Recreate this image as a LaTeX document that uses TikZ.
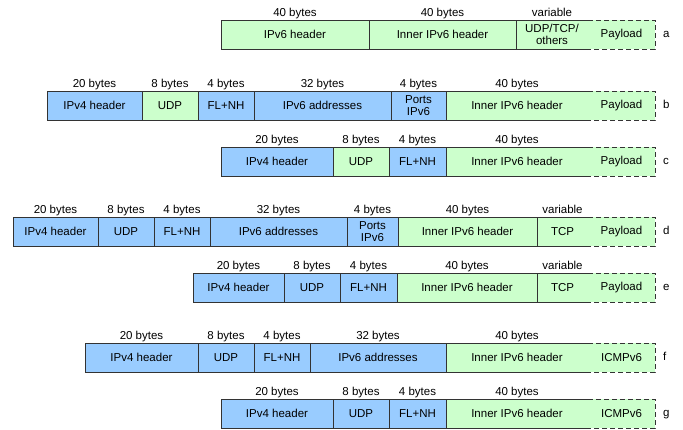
\documentclass[tikz,border=0pt]{standalone}
\usepackage{fontspec}
\setmainfont{Liberation Sans}
\usetikzlibrary{positioning}

\definecolor{vfourblue}{RGB}{153,204,255}
\definecolor{vsixgreen}{RGB}{204,255,204}
\definecolor{edgegray}{RGB}{51,51,51}

\tikzset{
  field/.style={draw=edgegray, line width=0.6pt, minimum height=29pt, inner sep=0pt,
    outer sep=0pt, align=center, font=\fontsize{11.5}{12}\selectfont},
  vfour/.style={field, fill=vfourblue},
  vsix/.style={field, fill=vsixgreen},
  % payload: filled, its open edges are drawn dashed afterwards
  payload/.style={fill=vsixgreen, minimum height=29pt, inner sep=0pt, outer sep=0pt,
    font=\fontsize{11.5}{12}\selectfont},
  rowtag/.style={inner sep=0pt, text height=6pt, text depth=0pt,
    font=\fontsize{11.5}{12}\selectfont},
  every label/.style={inner sep=0pt, text depth=2pt, font=\fontsize{11.5}{12}\selectfont}
}

\begin{document}
\begin{tikzpicture}[x=1pt,y=-1pt,node distance=0pt,label distance=1.5pt]
	\useasboundingbox (0,0) rectangle (683,430);

	% (a) plain IPv6 in IPv6
	\node[vsix, minimum width=148pt, anchor=west, label=above:40 bytes] (a1) at (221,34.5) {IPv6 header};
	\node[vsix, minimum width=147pt, label=above:40 bytes] (a2) [right = of a1] {Inner IPv6 header};
	\node[vsix, minimum width=72pt, label=above:variable] (a3) [right = of a2] {UDP/TCP/\\others};
	\node[payload, minimum width=67pt] (ap) [right = of a3] {Payload};
	\node[rowtag] (ta) [right = 8pt of ap] {a};

	% (b)
	\node[vfour, minimum width=95pt, anchor=west, label=above:20 bytes] (b1) at (47,105.5) {IPv4 header};
	\node[vsix, minimum width=56pt, label=above:8 bytes] (b2) [right = of b1] {UDP};
	\node[vfour, minimum width=56pt, label=above:4 bytes] (b3) [right = of b2] {FL+NH};
	\node[vfour, minimum width=137pt, label=above:32 bytes] (b4) [right = of b3] {IPv6 addresses};
	\node[vfour, minimum width=55pt, label=above:4 bytes] (b5) [right = of b4] {Ports\\IPv6};
	\node[vsix, minimum width=142pt, label=above:40 bytes] (b6) [right = of b5] {Inner IPv6 header};
	\node[payload, minimum width=67pt] (bp) [right = of b6] {Payload};
	\node[rowtag] (tb) [right = 8pt of bp] {b};

	% (c)
	\node[vfour, minimum width=112pt, anchor=west, label=above:20 bytes] (c1) at (221,161.5) {IPv4 header};
	\node[vsix, minimum width=56pt, label=above:8 bytes] (c2) [right = of c1] {UDP};
	\node[vfour, minimum width=57pt, label=above:4 bytes] (c3) [right = of c2] {FL+NH};
	\node[vsix, minimum width=142pt, label=above:40 bytes] (c4) [right = of c3] {Inner IPv6 header};
	\node[payload, minimum width=67pt] (cp) [right = of c4] {Payload};
	\node[rowtag] (tc) [right = 8pt of cp] {c};

	% (d)
	\node[vfour, minimum width=85pt, anchor=west, label=above:20 bytes] (d1) at (13,231.5) {IPv4 header};
	\node[vfour, minimum width=56pt, label=above:8 bytes] (d2) [right = of d1] {UDP};
	\node[vfour, minimum width=56pt, label=above:4 bytes] (d3) [right = of d2] {FL+NH};
	\node[vfour, minimum width=137pt, label=above:32 bytes] (d4) [right = of d3] {IPv6 addresses};
	\node[vfour, minimum width=51pt, label=above:4 bytes] (d5) [right = of d4] {Ports\\IPv6};
	\node[vsix, minimum width=139pt, label=above:40 bytes] (d6) [right = of d5] {Inner IPv6 header};
	\node[vsix, minimum width=51pt, label=above:variable] (d7) [right = of d6] {TCP};
	\node[payload, minimum width=67pt] (dp) [right = of d7] {Payload};
	\node[rowtag] (td) [right = 8pt of dp] {d};

	% (e)
	\node[vfour, minimum width=91pt, anchor=west, label=above:20 bytes] (e1) at (193,287.5) {IPv4 header};
	\node[vfour, minimum width=56pt, label=above:8 bytes] (e2) [right = of e1] {UDP};
	\node[vfour, minimum width=57pt, label=above:4 bytes] (e3) [right = of e2] {FL+NH};
	\node[vsix, minimum width=140pt, label=above:40 bytes] (e4) [right = of e3] {Inner IPv6 header};
	\node[vsix, minimum width=51pt, label=above:variable] (e5) [right = of e4] {TCP};
	\node[payload, minimum width=67pt] (ep) [right = of e5] {Payload};
	\node[rowtag] (te) [right = 8pt of ep] {e};

	% (f)
	\node[vfour, minimum width=113pt, anchor=west, label=above:20 bytes] (f1) at (85,357.5) {IPv4 header};
	\node[vfour, minimum width=56pt, label=above:8 bytes] (f2) [right = of f1] {UDP};
	\node[vfour, minimum width=56pt, label=above:4 bytes] (f3) [right = of f2] {FL+NH};
	\node[vfour, minimum width=136pt, label=above:32 bytes] (f4) [right = of f3] {IPv6 addresses};
	\node[vsix, minimum width=142pt, label=above:40 bytes] (f5) [right = of f4] {Inner IPv6 header};
	\node[payload, minimum width=67pt] (fp) [right = of f5] {ICMPv6};
	\node[rowtag] (tf) [right = 8pt of fp] {f};

	% (g)
	\node[vfour, minimum width=112pt, anchor=west, label=above:20 bytes] (g1) at (221,413.5) {IPv4 header};
	\node[vfour, minimum width=56pt, label=above:8 bytes] (g2) [right = of g1] {UDP};
	\node[vfour, minimum width=57pt, label=above:4 bytes] (g3) [right = of g2] {FL+NH};
	\node[vsix, minimum width=142pt, label=above:40 bytes] (g4) [right = of g3] {Inner IPv6 header};
	\node[payload, minimum width=67pt] (gp) [right = of g4] {ICMPv6};
	\node[rowtag] (tg) [right = 8pt of gp] {g};

	% dashed open end of every payload
	\foreach \p in {ap,bp,cp,dp,ep,fp,gp}
		\draw[edgegray, line width=0.6pt, dash pattern=on 5pt off 3pt]
			(\p.north west) -- (\p.north east) -- (\p.south east) -- (\p.south west);

\end{tikzpicture}
\end{document}
